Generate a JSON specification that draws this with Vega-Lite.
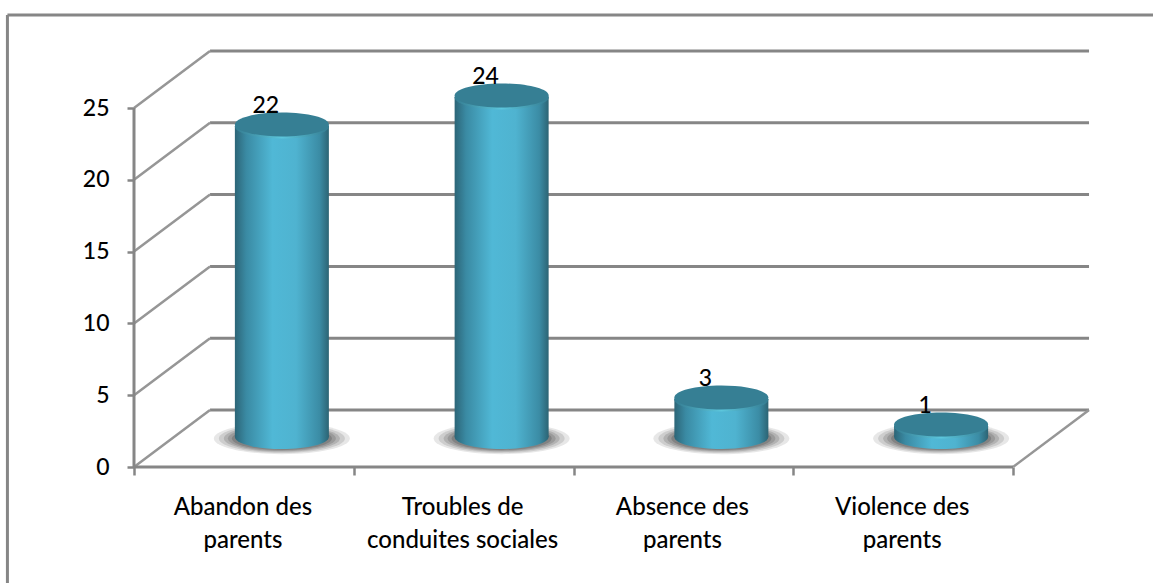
{"$schema":"https://vega.github.io/schema/vega-lite/v6.json","width":1153,"height":583,"padding":0,"autosize":{"type":"none"},"background":"white","config":{"view":{"stroke":null}},
"datasets":{
"cats":[{"u":0.5,"label":"Abandon des\nparents","value":22,"height":21.66},{"u":1.5,"label":"Troubles de\nconduites sociales","value":24,"height":23.68},{"u":2.5,"label":"Absence des\nparents","value":3,"height":2.65},{"u":3.5,"label":"Violence des\nparents","value":1,"height":0.77}],
"grid":[{"v":0,"a":0,"backA":0.346,"backB":4.346,"backV":3.97},{"v":5,"a":0,"backA":0.346,"backB":4.346,"backV":8.97},{"v":10,"a":0,"backA":0.346,"backB":4.346,"backV":13.97},{"v":15,"a":0,"backA":0.346,"backB":4.346,"backV":18.97},{"v":20,"a":0,"backA":0.346,"backB":4.346,"backV":23.97},{"v":25,"a":0,"backA":0.346,"backB":4.346,"backV":28.97}],
"edges":[{"x":4,"x2":4.346,"y":0,"y2":3.97}],
"frame":[{"x":-0.576,"x2":4.64,"y":31.48,"y2":31.48},{"x":-0.576,"x2":-0.576,"y":31.48,"y2":-8.1}],
"front":[{"x":0,"x2":4,"y":0,"y2":0},{"x":0,"x2":0,"y":0,"y2":25}]
},
"encoding":{},
"layer":[
{"data":{"name":"frame"},"mark":{"type":"rule","color":"#868686","strokeWidth":3},"encoding":{"x":{"field":"x","type":"quantitative","scale":{"domain":[-0.6098,4.6371],"nice":false,"zero":false,"padding":0},"axis":{"values":[0,1,2,3,4],"orient":"bottom","offset":-116,"domain":false,"grid":false,"labels":false,"title":null,"ticks":true,"tickColor":"#868686","tickWidth":2.5,"tickSize":8}},"x2":{"field":"x2"},"y":{"field":"y","type":"quantitative","scale":{"domain":[-8.078,32.521],"nice":false,"zero":false},"axis":{"values":[0,5,10,15,20,25],"orient":"left","offset":-134,"domain":false,"grid":false,"title":null,"tickColor":"#868686","tickWidth":2.5,"tickSize":7,"labelPadding":18,"labelFont":"Lato","labelFontSize":23,"labelColor":"black","labelFontWeight":500}},"y2":{"field":"y2"}}},
{"data":{"name":"grid"},"mark":{"type":"rule","color":"#868686","strokeWidth":3},"encoding":{"x":{"field":"backA","type":"quantitative"},"x2":{"field":"backB"},"y":{"field":"backV","type":"quantitative"}}},
{"data":{"name":"grid"},"mark":{"type":"rule","color":"#969696","strokeWidth":2.5},"encoding":{"x":{"field":"a","type":"quantitative"},"x2":{"field":"backA"},"y":{"field":"v","type":"quantitative"},"y2":{"field":"backV"}}},
{"data":{"name":"edges"},"mark":{"type":"rule","color":"#969696","strokeWidth":2.5},"encoding":{"x":{"field":"x","type":"quantitative"},"x2":{"field":"x2"},"y":{"field":"y","type":"quantitative"},"y2":{"field":"y2"}}},
{"data":{"name":"front"},"mark":{"type":"rule","color":"#868686","strokeWidth":3},"encoding":{"x":{"field":"x","type":"quantitative"},"x2":{"field":"x2"},"y":{"field":"y","type":"quantitative"},"y2":{"field":"y2"}}},
{"data":{"name":"cats"},"mark":{"type":"point","filled":true,"size":18496,"opacity":0.12,"color":"#3a3a3a","xOffset":38,"yOffset":-28.5,"shape":"M-1,0C-1,-0.127,-0.55,-0.23,0,-0.23C0.55,-0.23,1,-0.127,1,0C1,0.127,0.55,0.23,0,0.23C-0.55,0.23,-1,0.127,-1,0Z"},"encoding":{"x":{"field":"u","type":"quantitative"},"y":{"datum":0,"type":"quantitative"}}},
{"data":{"name":"cats"},"mark":{"type":"point","filled":true,"size":15876,"opacity":0.15,"color":"#3a3a3a","xOffset":38,"yOffset":-28.5,"shape":"M-1,0C-1,-0.127,-0.55,-0.23,0,-0.23C0.55,-0.23,1,-0.127,1,0C1,0.127,0.55,0.23,0,0.23C-0.55,0.23,-1,0.127,-1,0Z"},"encoding":{"x":{"field":"u","type":"quantitative"},"y":{"datum":0,"type":"quantitative"}}},
{"data":{"name":"cats"},"mark":{"type":"point","filled":true,"size":13456,"opacity":0.18,"color":"#3a3a3a","xOffset":38,"yOffset":-28.5,"shape":"M-1,0C-1,-0.127,-0.55,-0.23,0,-0.23C0.55,-0.23,1,-0.127,1,0C1,0.127,0.55,0.23,0,0.23C-0.55,0.23,-1,0.127,-1,0Z"},"encoding":{"x":{"field":"u","type":"quantitative"},"y":{"datum":0,"type":"quantitative"}}},
{"data":{"name":"cats"},"mark":{"type":"point","filled":true,"size":11664,"opacity":0.2,"color":"#3a3a3a","xOffset":38,"yOffset":-28.5,"shape":"M-1,0C-1,-0.127,-0.55,-0.23,0,-0.23C0.55,-0.23,1,-0.127,1,0C1,0.127,0.55,0.23,0,0.23C-0.55,0.23,-1,0.127,-1,0Z"},"encoding":{"x":{"field":"u","type":"quantitative"},"y":{"datum":0,"type":"quantitative"}}},
{"data":{"name":"cats"},"mark":{"type":"point","filled":true,"size":10000,"opacity":0.25,"color":"#3a3a3a","xOffset":38,"yOffset":-28.5,"shape":"M-1,0C-1,-0.127,-0.55,-0.23,0,-0.23C0.55,-0.23,1,-0.127,1,0C1,0.127,0.55,0.23,0,0.23C-0.55,0.23,-1,0.127,-1,0Z"},"encoding":{"x":{"field":"u","type":"quantitative"},"y":{"datum":0,"type":"quantitative"}}},
{"data":{"name":"cats"},"mark":{"type":"point","filled":true,"size":8836,"opacity":1,"xOffset":38,"yOffset":-30,"shape":"M-1,0C-1,-0.141,-0.55,-0.255,0,-0.255C0.55,-0.255,1,-0.141,1,0C1,0.141,0.55,0.255,0,0.255C-0.55,0.255,-1,0.141,-1,0Z","color":{"gradient":"linear","x1":0,"y1":0,"x2":1,"y2":0,"stops":[{"offset":0,"color":"#2c6577"},{"offset":0.12,"color":"#3a8aa3"},{"offset":0.4,"color":"#50b8d6"},{"offset":0.65,"color":"#4fb3d0"},{"offset":0.9,"color":"#3b8ca5"},{"offset":1,"color":"#2c6474"}]}},"encoding":{"x":{"field":"u","type":"quantitative"},"y":{"datum":0,"type":"quantitative"}}},
{"data":{"name":"cats"},"mark":{"type":"bar","width":94,"xOffset":38,"yOffset":-30,"y2Offset":-30,"color":{"gradient":"linear","x1":0,"y1":0,"x2":1,"y2":0,"stops":[{"offset":0,"color":"#2c6577"},{"offset":0.12,"color":"#3a8aa3"},{"offset":0.4,"color":"#50b8d6"},{"offset":0.65,"color":"#4fb3d0"},{"offset":0.9,"color":"#3b8ca5"},{"offset":1,"color":"#2c6474"}]}},"encoding":{"x":{"field":"u","type":"quantitative"},"y":{"field":"height","type":"quantitative"},"y2":{"datum":0}}},
{"data":{"name":"cats"},"mark":{"type":"point","filled":true,"size":8836,"opacity":1,"xOffset":38,"yOffset":-29.5,"shape":"M-1,0C-1,-0.141,-0.55,-0.255,0,-0.255C0.55,-0.255,1,-0.141,1,0C1,0.141,0.55,0.255,0,0.255C-0.55,0.255,-1,0.141,-1,0Z","color":{"gradient":"linear","x1":0,"y1":0,"x2":1,"y2":0,"stops":[{"offset":0,"color":"#347c91"},{"offset":0.5,"color":"#5cc6dc"},{"offset":1,"color":"#347c91"}]}},"encoding":{"x":{"field":"u","type":"quantitative"},"y":{"field":"height","type":"quantitative"}}},
{"data":{"name":"cats"},"mark":{"type":"point","filled":true,"size":8836,"opacity":1,"xOffset":38,"yOffset":-31.5,"shape":"M-1,0C-1,-0.141,-0.55,-0.255,0,-0.255C0.55,-0.255,1,-0.141,1,0C1,0.141,0.55,0.255,0,0.255C-0.55,0.255,-1,0.141,-1,0Z","color":"#367f94"},"encoding":{"x":{"field":"u","type":"quantitative"},"y":{"field":"height","type":"quantitative"}}},
{"data":{"name":"cats"},"mark":{"type":"text","font":"Lato","fontSize":23,"fontWeight":500,"color":"black","xOffset":22,"yOffset":-50},"encoding":{"x":{"field":"u","type":"quantitative"},"y":{"field":"height","type":"quantitative"},"text":{"field":"value","type":"quantitative"}}},
{"data":{"name":"cats"},"mark":{"type":"text","font":"Lato","fontSize":24,"fontWeight":500,"color":"black","lineBreak":"\n","lineHeight":33,"baseline":"middle","align":"center","xOffset":-1},"encoding":{"x":{"field":"u","type":"quantitative"},"y":{"datum":-2.85,"type":"quantitative"},"text":{"field":"label","type":"nominal"}}}
]}
